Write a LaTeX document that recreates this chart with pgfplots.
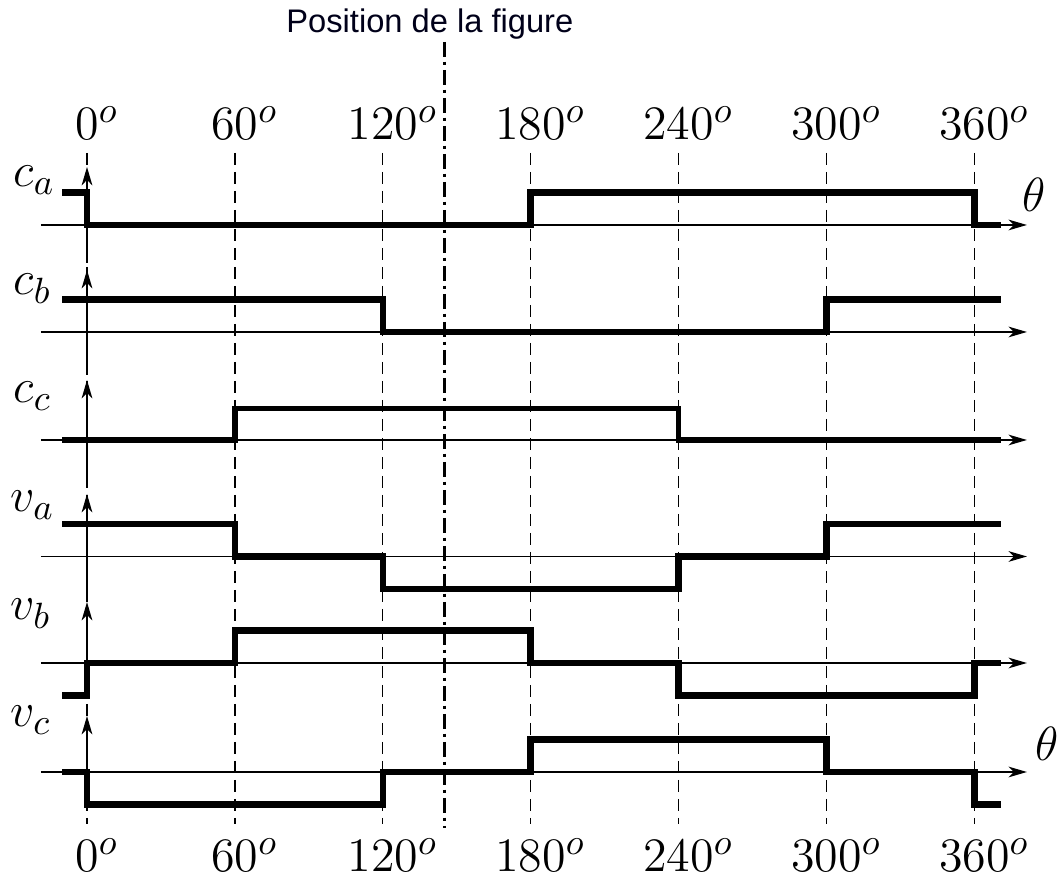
\documentclass[border=0pt]{standalone}
\usepackage{pgfplots}
\pgfplotsset{compat=1.18}
\usepackage{pgfplotstable}
\usepackage{fontspec}
\newfontfamily\titlefont{Liberation Sans}
\usetikzlibrary{arrows.meta}

% levels on each interval starting at x (const plot, mark left)
\pgfplotstableread{
x     ca cb cc va vb vc
-10   1  1  0  1  -1 0
0     0  1  0  1  0  -1
60    0  1  1  0  1  -1
120   0  0  1  -1 1  0
180   1  0  1  -1 0  1
240   1  0  0  0  -1 1
300   1  1  0  1  -1 0
360   0  1  0  1  0  -1
370.7 0  1  0  1  0  -1
}\waves

\tikzset{
  ax/.style={line width=0.45pt, -{Stealth[length=5.5pt,width=3.2pt,inset=1.6pt]}},
  lab/.style={inner sep=0pt, font=\fontsize{15.3}{18}\selectfont},
  wave/.style={black, const plot, line width=1.95pt, line join=miter, line cap=butt},
}

\begin{document}
\begin{tikzpicture}
\path[use as bounding box] (0,0) rectangle (318.3pt,264.3pt);
\begin{axis}[at={(0,0)}, anchor=south west, scale only axis,
  width=318.3pt, height=264.3pt,
  xmin=-35.294, xmax=395.13, ymin=-881, ymax=0,
  hide axis, clip=false]

% dashed vertical guides
\pgfplotsinvokeforeach{0,60,120,180,240,300,360}{
  \draw[line width=0.4pt, dash pattern=on 3.6pt off 2.1pt] (axis cs:#1,-153) -- (axis cs:#1,-824);
}
% position line
\draw[line width=1pt, dash pattern=on 4.5pt off 1.4pt on 1.1pt off 1.4pt] (axis cs:145,-42) -- (axis cs:145,-828);

% horizontal axes
\draw[ax] (axis cs:-18.7,-225) -- (axis cs:381.3,-225);
\draw[ax] (axis cs:-18.7,-332) -- (axis cs:381.3,-332);
\draw[ax] (axis cs:-18.7,-440) -- (axis cs:381.3,-440);
\draw[ax] (axis cs:-18.7,-556.5) -- (axis cs:381.3,-556.5);
\draw[ax] (axis cs:-18.7,-663) -- (axis cs:381.3,-663);
\draw[ax] (axis cs:-18.7,-772) -- (axis cs:381.3,-772);
% vertical axes
\draw[ax] (axis cs:0,-263) -- (axis cs:0,-167);
\draw[ax] (axis cs:0,-375) -- (axis cs:0,-270);
\draw[ax] (axis cs:0,-478) -- (axis cs:0,-380);
\draw[ax] (axis cs:0,-595) -- (axis cs:0,-494);
\draw[ax] (axis cs:0,-698) -- (axis cs:0,-602);
\draw[ax] (axis cs:0,-803) -- (axis cs:0,-716);

% waveforms
\addplot[wave] table[x=x, y expr=\thisrow{ca}*32.5-225] {\waves};
\addplot[wave] table[x=x, y expr=\thisrow{cb}*32.5-332] {\waves};
\addplot[wave, line width=1.6pt] table[x=x, y expr=\thisrow{cc}*31.5-440] {\waves};
\addplot[wave] table[x=x, y expr=\thisrow{va}*32.5-556.5] {\waves};
\addplot[wave] table[x=x, y expr=\thisrow{vb}*32.5-663] {\waves};
\addplot[wave] table[x=x, y expr=\thisrow{vc}*32.5-772] {\waves};

% row labels
\node[lab, anchor=base west] at (axis cs:-30.0,-187) {$c_a$};
\node[lab, anchor=base west] at (axis cs:-30.0,-295) {$c_b$};
\node[lab, anchor=base west] at (axis cs:-30.0,-403) {$c_c$};
\node[lab, anchor=base west] at (axis cs:-31.2,-512) {$v_a$};
\node[lab, anchor=base west] at (axis cs:-31.2,-620) {$v_b$};
\node[lab, anchor=base west] at (axis cs:-31.2,-727) {$v_c$};
\node[lab, anchor=base west] at (axis cs:379.3,-212) {$\theta$};
\node[lab, anchor=base west] at (axis cs:384.6,-761) {$\theta$};

% angle labels
\pgfplotsinvokeforeach{0,60,120,180,240,300,360}{
  \node[lab, anchor=base] at (axis cs:#1,-140) {$#1\rlap{$^{o}$}$};
  \node[lab, anchor=base] at (axis cs:#1,-872) {$#1\rlap{$^{o}$}$};
}

% title
\node[inner sep=0pt, anchor=base, font=\titlefont\fontsize{9.8}{12}\selectfont, text=black!90!blue]
  at (axis cs:139.1,-33) {Position de la figure};
\end{axis}
\end{tikzpicture}
\end{document}
